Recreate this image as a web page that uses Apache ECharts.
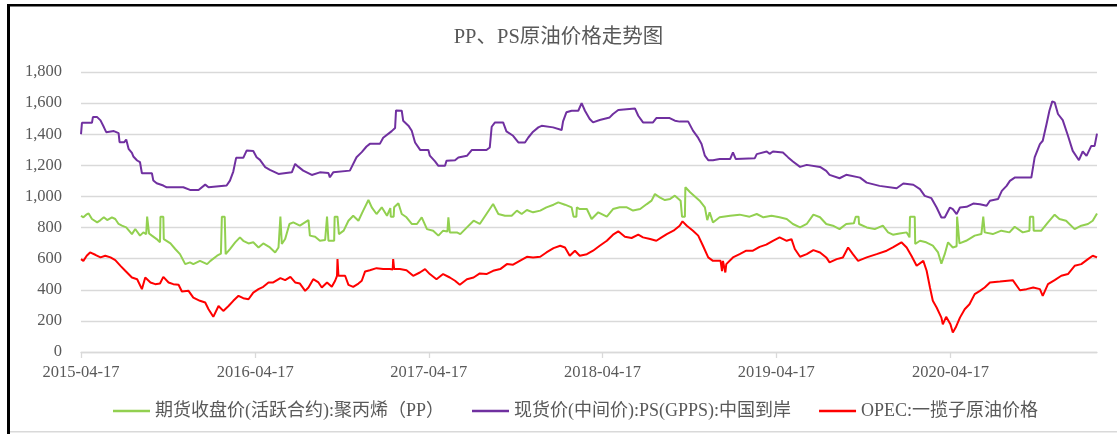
<!DOCTYPE html>
<html>
<head>
<meta charset="utf-8">
<script src="https://cdn.jsdelivr.net/npm/echarts@6/dist/echarts.min.js"></script>
<style>
html, body { margin: 0; padding: 0; background: #fff; }
#main { width: 1117px; height: 434px; }
</style>
</head>
<body>
<div id="main"></div>
<script>
// x 轴日期范围与刻度
var firstDay = '2015-04-17';
var lastDay = '2021-02-19';
var tickLabels = ['2015-04-17', '2016-04-17', '2017-04-17', '2018-04-17', '2019-04-17', '2020-04-17'];

var seriesNames = ['期货收盘价(活跃合约):聚丙烯（PP）', '现货价(中间价):PS(GPPS):中国到岸', 'OPEC:一揽子原油价格'];
var seriesColors = ['#92d050', '#7030a0', '#ff0000'];

// 期货收盘价(活跃合约):聚丙烯
var ppData = [
	['2015-04-17',876],['2015-04-22',866],['2015-04-28',883],['2015-05-03',891],['2015-05-10',855],['2015-05-21',833],
	['2015-05-28',848],['2015-06-04',866],['2015-06-11',848],['2015-06-21',866],['2015-06-28',855],['2015-07-05',823],
	['2015-07-12',812],['2015-07-21',801],['2015-08-02',758],['2015-08-09',791],['2015-08-19',748],['2015-08-26',769],
	['2015-09-01',758],['2015-09-03',870],['2015-09-04',870],['2015-09-07',762],['2015-09-13',748],['2015-09-23',726],
	['2015-09-30',705],['2015-10-01',870],['2015-10-07',870],['2015-10-08',726],['2015-10-22',698],['2015-11-01',662],
	['2015-11-11',629],['2015-11-22',565],['2015-12-02',576],['2015-12-09',565],['2015-12-23',586],['2016-01-07',565],
	['2016-01-14',586],['2016-01-28',619],['2016-02-05',632],['2016-02-07',870],['2016-02-13',870],['2016-02-15',629],
	['2016-02-24',662],['2016-03-06',705],['2016-03-16',737],['2016-03-23',715],['2016-04-03',698],['2016-04-13',705],
	['2016-04-24',672],['2016-05-04',698],['2016-05-18',672],['2016-05-29',640],['2016-06-05',672],['2016-06-08',680],
	['2016-06-09',870],['2016-06-12',694],['2016-06-19',726],['2016-06-28',823],['2016-07-06',833],['2016-07-20',812],
	['2016-08-07',848],['2016-08-10',748],['2016-08-21',741],['2016-08-31',715],['2016-09-11',720],['2016-09-14',718],
	['2016-09-15',870],['2016-09-18',715],['2016-09-30',715],['2016-10-01',870],['2016-10-07',870],['2016-10-10',758],
	['2016-10-20',780],['2016-10-30',844],['2016-11-09',876],['2016-11-20',844],['2016-11-30',909],['2016-12-11',977],
	['2016-12-18',930],['2016-12-28',887],['2017-01-08',930],['2017-01-19',876],['2017-01-26',925],['2017-01-27',870],
	['2017-02-02',870],['2017-02-03',930],['2017-02-12',956],['2017-02-19',887],['2017-03-01',866],['2017-03-12',823],
	['2017-03-23',823],['2017-04-02',866],['2017-04-13',790],['2017-04-26',780],['2017-05-07',748],['2017-05-17',780],
	['2017-05-26',775],['2017-05-28',866],['2017-05-31',769],['2017-06-15',769],['2017-06-22',758],['2017-07-06',801],
	['2017-07-20',844],['2017-08-02',823],['2017-08-16',887],['2017-08-30',951],['2017-09-10',887],['2017-09-24',876],
	['2017-10-08',876],['2017-10-19',909],['2017-10-29',887],['2017-11-09',913],['2017-11-22',898],['2017-12-07',909],
	['2017-12-20',930],['2018-01-04',947],['2018-01-14',962],['2018-01-28',947],['2018-02-11',930],['2018-02-14',930],
	['2018-02-15',870],['2018-02-21',870],['2018-02-22',930],['2018-02-28',919],['2018-03-15',919],['2018-03-25',855],
	['2018-04-08',898],['2018-04-26',870],['2018-05-09',919],['2018-05-23',930],['2018-06-07',930],['2018-06-20',909],
	['2018-07-05',919],['2018-07-19',951],['2018-07-29',973],['2018-08-05',1016],['2018-08-15',994],['2018-08-26',977],
	['2018-09-06',984],['2018-09-16',1005],['2018-09-28',973],['2018-10-01',870],['2018-10-07',870],['2018-10-08',1059],
	['2018-10-18',1027],['2018-10-28',1000],['2018-11-07',973],['2018-11-18',930],['2018-11-23',848],['2018-11-28',898],
	['2018-12-05',833],['2018-12-19',866],['2019-01-10',876],['2019-01-30',883],['2019-02-20',870],['2019-03-07',887],
	['2019-03-21',866],['2019-04-07',876],['2019-04-24',866],['2019-05-09',855],['2019-05-22',823],['2019-06-06',801],
	['2019-06-20',823],['2019-07-04',883],['2019-07-18',866],['2019-07-31',823],['2019-08-14',812],['2019-08-28',790],
	['2019-09-11',823],['2019-09-27',827],['2019-10-01',870],['2019-10-07',870],['2019-10-08',823],['2019-10-24',801],
	['2019-11-10',790],['2019-11-27',812],['2019-12-08',769],['2019-12-18',754],['2020-01-01',762],['2020-01-16',769],
	['2020-01-22',737],['2020-01-23',870],['2020-02-02',870],['2020-02-03',694],['2020-02-13',715],['2020-02-26',705],
	['2020-03-11',684],['2020-03-22',640],['2020-03-29',568],['2020-04-05',629],['2020-04-12',705],['2020-04-22',672],
	['2020-04-30',680],['2020-05-01',870],['2020-05-05',870],['2020-05-06',698],['2020-05-20',715],['2020-06-07',748],
	['2020-06-21',758],['2020-06-24',760],['2020-06-25',870],['2020-06-28',769],['2020-07-15',758],['2020-08-02',780],
	['2020-08-19',769],['2020-08-30',805],['2020-09-16',769],['2020-09-30',780],['2020-10-01',870],['2020-10-08',870],
	['2020-10-09',780],['2020-10-25',780],['2020-11-08',833],['2020-11-22',883],['2020-12-02',855],['2020-12-16',844],
	['2021-01-03',790],['2021-01-17',812],['2021-01-31',823],['2021-02-10',844],['2021-02-19',891]
];

// 现货价(中间价):PS(GPPS):中国到岸
var psData = [
	['2015-04-17',1400],['2015-04-19',1473],['2015-05-10',1473],['2015-05-12',1510],['2015-05-21',1510],['2015-05-28',1489],
	['2015-06-04',1446],['2015-06-09',1413],['2015-06-25',1420],['2015-07-05',1407],['2015-07-07',1349],['2015-07-17',1349],
	['2015-07-21',1366],['2015-07-26',1306],['2015-08-02',1280],['2015-08-05',1257],['2015-08-13',1231],['2015-08-19',1220],
	['2015-08-23',1149],['2015-09-13',1149],['2015-09-16',1102],['2015-09-23',1085],['2015-10-07',1070],['2015-10-14',1059],
	['2015-11-18',1059],['2015-12-02',1042],['2015-12-20',1042],['2016-01-03',1076],['2016-01-10',1059],['2016-02-17',1070],
	['2016-02-24',1102],['2016-03-02',1160],['2016-03-08',1248],['2016-03-23',1248],['2016-03-30',1295],['2016-04-13',1292],
	['2016-04-20',1252],['2016-04-27',1235],['2016-05-08',1188],['2016-05-18',1171],['2016-06-05',1145],['2016-07-03',1155],
	['2016-07-10',1209],['2016-07-17',1190],['2016-07-27',1166],['2016-08-14',1138],['2016-08-31',1155],['2016-09-18',1150],
	['2016-09-21',1123],['2016-09-28',1155],['2016-11-02',1166],['2016-11-16',1252],['2016-11-27',1285],['2016-12-07',1321],
	['2016-12-14',1338],['2017-01-04',1338],['2017-01-11',1377],['2017-01-29',1420],['2017-02-05',1440],['2017-02-07',1553],
	['2017-02-19',1551],['2017-02-22',1487],['2017-03-05',1455],['2017-03-12',1422],['2017-03-19',1347],['2017-03-30',1298],
	['2017-04-16',1298],['2017-04-19',1262],['2017-04-30',1225],['2017-05-07',1197],['2017-05-21',1197],['2017-05-24',1229],
	['2017-06-11',1233],['2017-06-18',1250],['2017-07-06',1261],['2017-07-16',1298],['2017-08-16',1298],['2017-08-23',1315],
	['2017-08-27',1448],['2017-09-03',1476],['2017-09-20',1476],['2017-09-27',1418],['2017-10-11',1390],['2017-10-22',1347],
	['2017-11-05',1347],['2017-11-12',1379],['2017-11-22',1416],['2017-12-03',1444],['2017-12-10',1454],['2018-01-03',1444],
	['2018-01-21',1427],['2018-01-24',1483],['2018-01-31',1541],['2018-02-11',1551],['2018-02-25',1551],['2018-03-04',1600],
	['2018-03-11',1551],['2018-03-21',1498],['2018-03-28',1476],['2018-04-11',1491],['2018-05-02',1508],['2018-05-09',1530],
	['2018-05-20',1556],['2018-06-24',1566],['2018-07-01',1519],['2018-07-11',1476],['2018-08-01',1476],['2018-08-08',1504],
	['2018-09-05',1504],['2018-09-16',1487],['2018-09-26',1481],['2018-10-14',1481],['2018-10-24',1423],['2018-11-04',1376],
	['2018-11-11',1337],['2018-11-18',1262],['2018-11-25',1233],['2018-12-05',1233],['2018-12-19',1240],['2019-01-10',1240],
	['2019-01-16',1283],['2019-01-22',1240],['2019-03-03',1246],['2019-03-07',1272],['2019-03-28',1289],['2019-04-03',1274],
	['2019-04-10',1289],['2019-05-01',1283],['2019-05-12',1251],['2019-05-22',1225],['2019-06-06',1190],['2019-06-20',1203],
	['2019-07-18',1190],['2019-07-31',1164],['2019-08-07',1139],['2019-08-28',1117],['2019-09-11',1139],['2019-10-10',1121],
	['2019-10-24',1089],['2019-11-20',1068],['2019-12-26',1053],['2020-01-09',1083],['2020-01-30',1075],['2020-02-13',1047],
	['2020-02-23',1004],['2020-03-08',989],['2020-03-19',929],['2020-03-29',865],['2020-04-05',865],['2020-04-16',929],
	['2020-04-22',918],['2020-04-30',886],['2020-05-07',929],['2020-05-21',933],['2020-06-04',954],['2020-06-18',950],
	['2020-07-02',940],['2020-07-09',972],['2020-07-26',983],['2020-08-03',1036],['2020-08-13',1068],['2020-08-20',1100],
	['2020-08-30',1121],['2020-10-04',1121],['2020-10-11',1251],['2020-10-22',1336],['2020-10-28',1358],['2020-11-05',1466],
	['2020-11-11',1551],['2020-11-17',1611],['2020-11-22',1605],['2020-11-29',1530],['2020-12-09',1491],['2020-12-20',1390],
	['2020-12-30',1293],['2021-01-12',1233],['2021-01-20',1289],['2021-01-28',1261],['2021-02-07',1325],['2021-02-14',1325],
	['2021-02-19',1404]
];

// OPEC:一揽子原油价格
var oilData = [
	['2015-04-17',597],['2015-04-22',586],['2015-04-29',619],['2015-05-06',640],['2015-05-17',625],['2015-05-28',608],
	['2015-06-07',619],['2015-06-18',608],['2015-06-28',591],['2015-07-09',554],['2015-07-19',522],['2015-08-02',479],
	['2015-08-13',468],['2015-08-23',404],['2015-08-30',479],['2015-09-10',447],['2015-09-20',436],['2015-09-30',440],
	['2015-10-07',483],['2015-10-18',447],['2015-10-28',436],['2015-11-08',432],['2015-11-15',389],['2015-11-29',393],
	['2015-12-09',350],['2015-12-23',329],['2016-01-03',318],['2016-01-10',275],['2016-01-20',226],['2016-01-31',296],
	['2016-02-10',264],['2016-02-21',296],['2016-03-02',329],['2016-03-13',361],['2016-03-23',346],['2016-04-03',339],
	['2016-04-13',382],['2016-04-24',404],['2016-05-04',419],['2016-05-15',447],['2016-05-25',447],['2016-06-09',475],
	['2016-06-19',462],['2016-06-30',483],['2016-07-10',447],['2016-07-20',440],['2016-07-31',393],['2016-08-07',415],
	['2016-08-17',468],['2016-08-28',447],['2016-09-04',415],['2016-09-15',447],['2016-09-25',419],['2016-10-02',458],
	['2016-10-06',490],['2016-10-07',597],['2016-10-09',490],['2016-10-23',490],['2016-10-30',432],['2016-11-09',419],
	['2016-11-20',440],['2016-11-27',458],['2016-12-04',518],['2016-12-14',526],['2016-12-28',539],['2017-01-11',533],
	['2017-01-25',533],['2017-01-31',530],['2017-02-01',597],['2017-02-03',533],['2017-02-15',533],['2017-03-01',526],
	['2017-03-15',490],['2017-03-29',511],['2017-04-09',533],['2017-04-19',501],['2017-05-03',468],['2017-05-17',501],
	['2017-05-31',479],['2017-06-11',458],['2017-06-21',432],['2017-07-06',468],['2017-07-20',479],['2017-08-02',505],
	['2017-08-16',501],['2017-08-30',522],['2017-09-14',533],['2017-09-28',565],['2017-10-11',561],['2017-10-25',586],
	['2017-11-09',612],['2017-11-22',608],['2017-12-07',612],['2017-12-20',640],['2018-01-04',668],['2018-01-18',683],
	['2018-01-28',672],['2018-02-07',619],['2018-02-18',651],['2018-02-28',619],['2018-03-15',629],['2018-03-28',651],
	['2018-04-11',683],['2018-04-26',715],['2018-05-09',754],['2018-05-20',776],['2018-06-03',741],['2018-06-17',733],
	['2018-07-01',754],['2018-07-11',737],['2018-07-26',726],['2018-08-08',715],['2018-08-19',737],['2018-08-30',758],
	['2018-09-13',780],['2018-09-26',812],['2018-10-02',840],['2018-10-11',812],['2018-10-24',780],['2018-11-04',748],
	['2018-11-14',683],['2018-11-25',608],['2018-12-05',586],['2018-12-16',586],['2018-12-21',586],['2018-12-24',520],
	['2018-12-26',586],['2018-12-31',511],['2019-01-02',565],['2019-01-16',608],['2019-01-30',629],['2019-02-13',651],
	['2019-02-27',651],['2019-03-13',676],['2019-03-27',690],['2019-04-10',715],['2019-04-24',737],['2019-05-09',715],
	['2019-05-19',726],['2019-05-26',662],['2019-06-06',612],['2019-06-20',629],['2019-07-04',655],['2019-07-18',640],
	['2019-07-31',608],['2019-08-07',576],['2019-08-22',597],['2019-09-04',608],['2019-09-15',672],['2019-09-25',629],
	['2019-10-06',586],['2019-10-24',608],['2019-11-14',629],['2019-12-05',651],['2019-12-18',672],['2020-01-05',705],
	['2020-01-16',672],['2020-01-26',619],['2020-02-06',554],['2020-02-20',586],['2020-02-27',522],['2020-03-05',415],
	['2020-03-11',329],['2020-03-19',286],['2020-03-29',221],['2020-04-01',178],['2020-04-08',226],['2020-04-17',178],
	['2020-04-22',125],['2020-04-28',157],['2020-05-07',221],['2020-05-17',275],['2020-05-27',307],['2020-06-07',372],
	['2020-06-18',393],['2020-06-28',415],['2020-07-09',447],['2020-07-30',453],['2020-08-26',462],['2020-09-10',397],
	['2020-09-24',404],['2020-10-08',415],['2020-10-22',404],['2020-10-28',361],['2020-11-08',436],['2020-11-22',462],
	['2020-12-06',490],['2020-12-20',501],['2021-01-03',554],['2021-01-17',565],['2021-01-31',597],['2021-02-10',619],
	['2021-02-19',608]
];

/*
 * 生成逐日的类目轴
 */
function dayList(from, to) {
	var out = [];
	var t = Date.UTC(+from.slice(0, 4), +from.slice(5, 7) - 1, +from.slice(8, 10));
	var end = Date.UTC(+to.slice(0, 4), +to.slice(5, 7) - 1, +to.slice(8, 10));
	for (; t <= end; t += 86400000) {
		out.push(new Date(t).toISOString().slice(0, 10));
	}
	return out;
}

var days = dayList(firstDay, lastDay);
var serifFont = "'Liberation Serif', 'Noto Sans CJK SC', serif";
var isTick = function(index, value) {
	return tickLabels.indexOf(value) >= 0;
};

var dom = document.getElementById('main');
var myChart = echarts.init(dom);

var seriesList = [ppData, psData, oilData].map(function(d, i) {
	return {
		name : seriesNames[i],
		type : 'line',
		data : d,
		symbol : 'none',
		color : seriesColors[i],
		lineStyle : { width : 2, color : seriesColors[i] },
		emphasis : { disabled : true }
	};
});

var option = {
	animation : false,
	backgroundColor : '#fff',
	title : {
		text : 'PP、PS原油价格走势图',
		left : 'center',
		top : 22,
		textStyle : {
			fontFamily : serifFont,
			fontSize : 20.5,
			fontWeight : 'normal',
			color : '#595959'
		}
	},
	legend : {
		left : 108,
		top : 397,
		icon : 'rect',
		itemWidth : 37,
		itemHeight : 2.5,
		itemGap : 28,
		textStyle : {
			fontFamily : serifFont,
			fontSize : 18,
			color : '#595959'
		},
		data : seriesNames
	},
	grid : {
		left : 81,
		right : 20,
		top : 72,
		bottom : 82,
		containLabel : false
	},
	xAxis : {
		type : 'category',
		boundaryGap : false,
		data : days,
		axisLine : { lineStyle : { color : '#d9d9d9', width : 1.3 } },
		axisTick : { interval : isTick, length : 6, lineStyle : { color : '#d9d9d9', width : 1.3 } },
		axisLabel : {
			interval : isTick,
			margin : 12,
			fontFamily : serifFont,
			fontSize : 16.5,
			color : '#595959'
		},
		splitLine : { show : false }
	},
	yAxis : {
		type : 'value',
		min : 0,
		max : 1800,
		interval : 200,
		axisLine : { show : false },
		axisTick : { show : false },
		axisLabel : {
			margin : 19,
			fontFamily : serifFont,
			fontSize : 16.5,
			color : '#595959',
			formatter : function(v) {
				return v.toLocaleString('en-US');
			}
		},
		splitLine : { lineStyle : { color : '#d9d9d9', width : 1.3 } }
	},
	// 外框
	graphic : [
		{ type : 'rect', shape : { x : 7, y : 4, width : 1110, height : 2.5 }, style : { fill : '#000' } },
		{ type : 'rect', shape : { x : 7, y : 4, width : 3, height : 430 }, style : { fill : '#000' } },
		{ type : 'rect', shape : { x : 10, y : 431, width : 1107, height : 1.5 }, style : { fill : '#d9d9d9' } }
	],
	series : seriesList
};
myChart.setOption(option);
</script>
</body>
</html>
